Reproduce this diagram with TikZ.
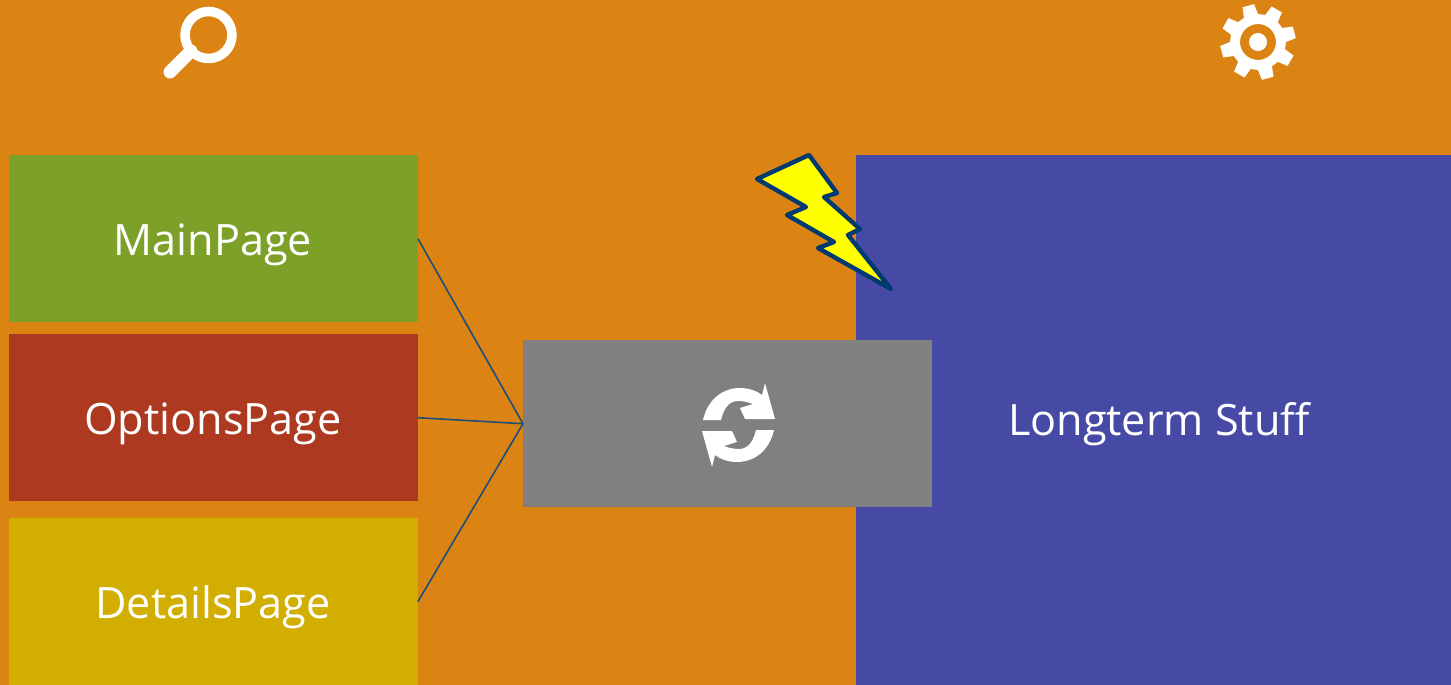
\documentclass[tikz,border=0pt]{standalone}
\usepackage{fontspec}
\setmainfont{Open Sans}
\definecolor{bgorange}{HTML}{DB8414}
\definecolor{mainc}{HTML}{7DA028}
\definecolor{optc}{HTML}{AC3920}
\definecolor{detc}{HTML}{D2AE00}
\definecolor{longc}{HTML}{474AA5}
\definecolor{grayc}{HTML}{808080}
\definecolor{boltline}{HTML}{003A70}
\definecolor{boltfill}{RGB}{255,255,0}
\definecolor{linkc}{HTML}{1F4E79}
\tikzset{
  x=1pt,y=-1pt,
  pagebox/.style={draw=none,inner sep=0pt,minimum width=408.5pt,minimum height=167pt,anchor=north west},
  boxtext/.style={text=white,inner sep=0pt,font=\fontsize{43.2}{50}\selectfont},
  link/.style={draw=linkc,line width=1.6pt},
  bolt/.style={draw=boltline,fill=boltfill,line width=4.4pt,line join=round},
  iconfill/.style={fill=white,draw=none}
}
\begin{document}
\begin{tikzpicture}
\useasboundingbox (0,0) rectangle (1451,685);
\fill[bgorange] (0,0) rectangle (1451,685);
\node[pagebox,fill=mainc] (main) at (9,155) {};
\node[pagebox,fill=optc] (options) at (9,334) {};
\node[pagebox,fill=detc,minimum height=167pt] (details) at (9,518) {};
\node[anchor=north west,fill=longc,inner sep=0pt,minimum width=595pt,minimum height=530pt] (long) at (856,155) {};
\node[pagebox,fill=grayc] (sync) at (523,340) {};
\draw[link] (main.east) -- (sync.west);
\draw[link] (options.east) -- (sync.west);
\draw[link] (details.east) -- (sync.west);
\node[boxtext,anchor=base] (t1) at (213,255) {MainPage};
\node[boxtext,anchor=base] (t2) at (213,434) {OptionsPage};
\node[boxtext,anchor=base] (t3) at (213,618) {DetailsPage};
\node[boxtext,anchor=base] (t4) at (1159,435) {Longterm Stuff};
% lightning
\draw[bolt] (757,179) -- (809,155) -- (837,193) -- (824,197) -- (860,229) -- (848,235) -- (891,289)
  -- (818,248) -- (834,242) -- (787,215) -- (806,207) -- cycle;
% magnifier
\draw[white,line width=9.5pt] (208.5,35) circle (23.5);
\draw[white,line width=13pt,line cap=round] (170,72) -- (191,51);
% gear
\fill[iconfill,even odd rule] (1286,42)
  \foreach \a in {15,60,...,330} {
    -- ({1258+38*cos(\a-9)},{42-38*sin(\a-9)}) -- ({1258+38*cos(\a+9)},{42-38*sin(\a+9)})
    -- ({1258+28*cos(\a+15)},{42-28*sin(\a+15)}) -- ({1258+28*cos(\a+30)},{42-28*sin(\a+30)})
  } -- cycle
  (1258,42) circle (18) (1258,42) circle (9);
% refresh
\def\refreshpart{(703,420) .. controls (708,398) and (724,388) .. (740,388) .. controls (749,388) and (757,391) .. (762,395)
  -- (765,383) -- (775,419) -- (745,419) -- (740,408) -- (753,404) .. controls (748,402) and (743,401) .. (738,401)
  .. controls (730,401) and (724,407) .. (721,420) -- cycle}
\fill[iconfill] \refreshpart;
\begin{scope}[shift={(738.5,425)},rotate=180,shift={(-738.5,-425)}]
\fill[iconfill] \refreshpart;
\end{scope}
\end{tikzpicture}
\end{document}
